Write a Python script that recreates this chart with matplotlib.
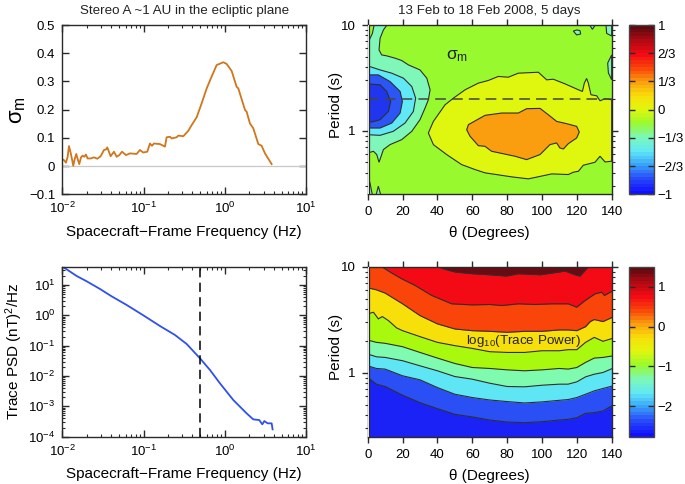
import numpy as np
import matplotlib
matplotlib.use('Agg')
import matplotlib.pyplot as plt
from matplotlib.cm import ScalarMappable
from matplotlib.colors import LinearSegmentedColormap, Normalize
from matplotlib.ticker import LogLocator, NullFormatter

plt.rcParams['font.family'] = ['Liberation Sans', 'DejaVu Sans']
plt.rcParams['mathtext.default'] = 'regular'
plt.rcParams['mathtext.fontset'] = 'custom'
plt.rcParams['mathtext.rm'] = 'Liberation Sans'
plt.rcParams['axes.unicode_minus'] = True

# sigma_m spectrum
sig_logf = [-2.000, -1.979, -1.955, -1.934, -1.918, -1.897, -1.877, -1.865, -1.848, -1.828, -1.807,
            -1.791, -1.770, -1.750, -1.729, -1.709, -1.688, -1.651, -1.610, -1.569, -1.528, -1.487,
            -1.462, -1.446, -1.405, -1.364, -1.331, -1.298, -1.265, -1.216, -1.167, -1.085, -1.044,
            -1.003, -0.954, -0.921, -0.896, -0.872, -0.798, -0.736, -0.716, -0.675, -0.654, -0.593,
            -0.572, -0.510, -0.449, -0.408, -0.346, -0.285, -0.223, -0.162, -0.100, -0.018, 0.023,
            0.085, 0.146, 0.167, 0.249, 0.269, 0.310, 0.351, 0.413, 0.454, 0.495, 0.577]
sig_val = [.024, .021, .012, .033, .071, .047, .019, .001, .024, .043, .021, .007, .031, .037, .033,
           .041, .027, .027, .031, .026, .035, .057, .059, .066, .035, .051, .033, .039, .051, .039,
           .045, .043, .057, .048, .051, .080, .072, .080, .078, .069, .102, .104, .098, .102, .108,
           .106, .125, .145, .173, .222, .275, .317, .358, .368, .362, .337, .281, .275, .199, .193,
           .151, .134, .078, .072, .045, .007]

# trace PSD spectrum
psd_logf = [-2.0, -1.947, -1.824, -1.700, -1.536, -1.393, -1.208, -1.003, -0.798, -0.613, -0.469,
            -0.305, -0.182, -0.059, 0.105, 0.269, 0.351, 0.425, 0.462, 0.487, 0.528, 0.577, 0.589]
psd_log = [1.604, 1.516, 1.297, 1.121, 0.868, 0.626, 0.341, 0.0, -0.352, -0.648, -0.945, -1.418,
           -1.802, -2.242, -2.791, -3.231, -3.429, -3.451, -3.593, -3.484, -3.560, -3.560, -3.758]

# sigma_m contours, (theta, log10 period)
aqua_main = [(11.5, 1.01), (9.0, .953), (7.1, .874), (6.5, .764), (8.0, .717), (10.9, .708), (15.7, .686),
             (19.5, .664), (23.3, .623), (30.0, .575), (33.9, .497), (35.8, .387), (34.8, .292),
             (32.9, .214), (30.0, .104), (25.3, -.006), (19.5, -.085), (12.8, -.132), (9.0, -.179),
             (7.7, -.242), (6.5, -.299), (5.2, -.226), (3.3, -.195), (0, -.211), (0, .827),
             (2.7, .921), (3.8, 1.01)]
cyan_main = [(0, .613), (7.1, .575), (13.8, .544), (20.5, .497), (25.3, .418), (27.5, .308), (26.2, .182),
             (21.4, .072), (14.7, -.006), (7.1, -.044), (0, -.038)]
blue_main = [(0, .528), (6.1, .528), (12.8, .465), (18.6, .371), (19.9, .277), (18.6, .167), (13.8, .072),
             (7.1, .025), (0, .025)]
deep_main = [(0, .443), (7.1, .434), (10.9, .371), (13.2, .277), (11.9, .182), (7.1, .104), (2.3, .082),
             (0, .088)]
aqua_small = [
    [(0, -.431), (1.3, -.494), (2.7, -.61), (0, -.61)],
    [(4.8, -.61), (6.1, -.525), (7.5, -.61)],
    [(140, .717), (137.7, .640), (138.1, .547), (140, .481)],
    [(136.7, 1.01), (137.1, .921), (140, .896), (140, 1.01)],
    [(127, 1.01), (128.9, .959), (131, 1.01)],
    [(118, .943), (119.9, .906), (122.2, .915), (121.8, .947), (119.9, .953)],
]
yellow_main = [(34.8, -.022), (37.7, .088), (44.4, .245), (49.2, .308), (55.9, .387), (63.5, .450), (69.2, .475),
               (74.9, .513), (80.7, .506), (86.4, .544), (97.9, .553), (102.7, .481), (106.5, .487),
               (113.2, .443), (120.9, .387), (123.2, .371), (124.3, .450), (125.6, .494), (126.6, .450),
               (128.1, .340), (131.4, .330), (133.3, .283), (136.2, .302), (140, .292), (140, -.289),
               (136.2, -.296), (133.3, -.242), (130.4, -.299), (123.7, -.327), (120.9, -.384), (118, -.393),
               (115.1, -.415), (105.6, -.409), (92.2, -.456), (82.6, -.437), (67.3, -.399), (61.6, -.368),
               (53.9, -.321), (45.3, -.226), (37.7, -.132)]
orange_main = [(56.8, .009), (57.8, .057), (63.5, .110), (67.3, .145), (76.9, .167), (86.4, .167), (91.2, .208),
               (98.9, .211), (103.6, .151), (108.4, .088), (114.2, .066), (119.9, .041), (121.4, -.013),
               (119.9, -.069), (115.1, -.123), (112.3, -.173), (110.3, -.164), (108.4, -.116), (104.6, -.132),
               (98.9, -.226), (91.2, -.274), (84.5, -.242), (71.1, -.195), (67.3, -.148), (63.5, -.142),
               (58.7, -.053)]

# trace power level curves, (theta, log10 period), lowest first
grid_theta = [0, 5, 10, 20, 30, 40, 50, 60, 70, 80, 90, 100, 110, 115, 120, 125, 130, 135, 140]
level_1 = [-.044, -.107, -.129, -.211, -.281, -.338, -.391, -.416, -.445, -.464, -.470, -.461, -.445,
           -.438, -.423, -.382, -.375, -.360, -.312]
level_2 = [.066, .041, .035, -.028, -.066, -.139, -.202, -.233, -.256, -.271, -.284, -.274, -.259, -.252,
           -.233, -.202, -.170, -.148, -.126]
level_3 = [.177, .151, .145, .114, .066, .019, -.035, -.060, -.098, -.129, -.132, -.117, -.107, -.107,
           -.085, -.038, -.013, .003, .038]
level_4 = [.309, .287, .278, .246, .192, .139, .088, .050, .041, .028, .019, .028, .041, .035, .050, .098,
           .139, .145, .158]
level_5_t = [0, 3.3, 6.1, 8.4, 11.9, 16.6, 20, 30, 40, 50, 60, 70, 80, 90, 100, 110, 115, 120, 125, 130, 135, 140]
level_5 = [.555, .571, .508, .530, .492, .423, .397, .341, .287, .256, .230, .199, .192, .192, .208, .208,
           .218, .218, .287, .334, .297, .322]
level_6_t = [0, 5, 10, 20, 30, 40, 50, 60, 70, 80, 90, 100, 110, 115, 120, 125, 127.7, 130, 135, 140]
level_6 = [.801, .782, .751, .650, .539, .461, .413, .397, .391, .382, .391, .391, .404, .404, .397, .435,
           .483, .502, .483, .520]
level_7_t = [7.1, 12.8, 19.5, 27.2, 36.7, 48.2, 60, 70, 76.9, 86.4, 96, 105.6, 115.1, 119.9, 124.7, 130.4,
             134.3, 135.8, 140]
level_7 = [1.01, .950, .886, .823, .729, .650, .640, .644, .634, .650, .644, .650, .650, .618, .681, .744,
           .760, .729, .767]
level_8_t = [38.6, 44.4, 50.1, 60, 70, 79.7, 86.4, 98.9, 105.6, 113.2, 119.9, 121.8, 124.7, 127]
level_8 = [1.01, .975, .950, .934, .924, .912, .934, .924, .940, .959, .918, .912, .965, 1.01]

theta_ticks = [0, 20, 40, 60, 80, 100, 120, 140]
sigma_cbar_ticks = [-1, -2/3, -1/3, 0, 1/3, 2/3, 1]
sigma_cbar_labels = ['\u22121', '\u22122/3', '\u22121/3', '0', '1/3', '2/3', '1']
power_cbar_ticks = [-2, -1, 0, 1]
power_cbar_labels = ['\u22122', '\u22121', '0', '1']

jet_like = LinearSegmentedColormap.from_list('jetlike', [
    '#1010FF', '#2848F8', '#38A0F8', '#60E8F5', '#7CF8B8', '#98F92F', '#DFF70E', '#F8E00A',
    '#FA9D0F', '#F9440A', '#F30A14', '#B00A12', '#5A0A10'], N=48)

W, H = 685, 484
DARK = '#2a2a2a'
LINE = '#2e2e2e'


def make_axes(x0, x1, y0, y1):
    return fig.add_axes([x0 / W, 1 - y1 / H, (x1 - x0) / W, (y1 - y0) / H])


def style_spines(ax):
    for s in ax.spines.values():
        s.set_linewidth(1.0)
        s.set_color(DARK)


def setup_freq_axis(ax):
    ax.set_xscale('log')
    ax.set_xlim(0.01, 10)
    ax.xaxis.set_minor_locator(LogLocator(base=10, subs=range(2, 10), numticks=20))
    ax.xaxis.set_minor_formatter(NullFormatter())
    ax.tick_params(which='major', direction='in', top=True, right=True, length=5, width=1, color=DARK,
                   labelsize=9.5, pad=5)
    ax.tick_params(which='minor', direction='in', top=True, right=True, length=2.5, width=.8, color=DARK)
    ax.set_xlabel('Spacecraft\u2212Frame Frequency (Hz)', fontsize=11, labelpad=6)
    style_spines(ax)


def setup_theta_axis(ax):
    ax.set_xlim(0, 140)
    ax.set_yscale('log')
    ax.set_ylim(0.25, 10)
    ax.set_xticks(theta_ticks)
    ax.set_yticks([1, 10], ['1', '10'])
    ax.yaxis.set_minor_locator(LogLocator(base=10, subs=range(2, 10), numticks=10))
    ax.yaxis.set_minor_formatter(NullFormatter())
    ax.tick_params(which='major', direction='out', top=True, right=True, length=4.5, width=1, color=DARK,
                   labelsize=9.5, pad=4)
    ax.tick_params(which='minor', direction='out', left=True, right=True, length=2.5, width=.8, color=DARK)
    ax.set_xlabel('\u03b8 (Degrees)', fontsize=11, labelpad=6)
    ax.set_ylabel('Period (s)', fontsize=11)
    ax.yaxis.set_label_coords(-0.10, 0.53)
    # thin empty strip at theta = 0
    ax.axvspan(0, 1, color='white', zorder=5, lw=0)
    ax.axvline(1, color=DARK, lw=.9, zorder=6)
    style_spines(ax)


def contour_poly(ax, pts, color):
    ax.fill([p[0] for p in pts], [10 ** p[1] for p in pts], facecolor=color, edgecolor=LINE, lw=.8)


def level_band(ax, t, lev, color):
    per = 10 ** np.array(lev)
    ax.fill_between(t, per, 12, color=color, lw=0)
    ax.plot(t, per, color=LINE, lw=.8)


def setup_cbar(cax, lo, hi, ticks, labels):
    cb = fig.colorbar(ScalarMappable(Normalize(lo, hi), jet_like), cax=cax, ticks=ticks)
    cb.ax.set_yticklabels(labels)
    cax.tick_params(direction='in', left=True, right=True, length=4, width=1, color=DARK, labelsize=9.5, pad=2.5)
    cb.outline.set_linewidth(1.0)
    cb.outline.set_edgecolor('#444444')
    cb.minorticks_off()
    return cb


fig = plt.figure(figsize=(W / 100, H / 100), dpi=100)

# top left
ax1 = make_axes(62.3, 306, 25, 194.3)
ax1.axhline(0, color='#c8c8c8', lw=.9)
ax1.plot(10 ** np.array(sig_logf), sig_val, color='#D0761C', lw=1.3)
setup_freq_axis(ax1)
ax1.set_ylim(-0.1, 0.5)
ax1.set_yticks(np.arange(-0.1, 0.51, 0.1))
ax1.set_yticklabels(['\u22120.1', '0', '0.1', '0.2', '0.3', '0.4', '0.5'])
ax1.set_ylabel('\u03c3$_{m}$', fontsize=16)
ax1.yaxis.set_label_coords(-0.142, 0.5)
ax1.set_title('Stereo A ~1 AU in the ecliptic plane', fontsize=9.6, pad=8, color='#222222')

# bottom left
ax2 = make_axes(62.3, 306, 266.7, 436.7)
ax2.plot(10 ** np.array(psd_logf), 10 ** np.array(psd_log), color='#2F50F0', lw=1.3)
ax2.axvline(0.495, color='black', lw=1.1, dashes=(6, 3.5))
setup_freq_axis(ax2)
ax2.set_yscale('log')
ax2.set_ylim(1e-4, 40)
ax2.set_yticks([1e-4, 1e-3, 1e-2, 1e-1, 1, 10])
ax2.yaxis.set_minor_locator(LogLocator(base=10, subs=range(2, 10), numticks=20))
ax2.yaxis.set_minor_formatter(NullFormatter())
ax2.tick_params(axis='y', which='major', labelsize=9.5)
ax2.set_ylabel('Trace PSD (nT)$^{2}$/Hz', fontsize=11)
ax2.yaxis.set_label_coords(-0.152, 0.5)

# top right
ax3 = make_axes(367.7, 611.7, 25, 194.3)
ax3.set_facecolor('#98F92F')
contour_poly(ax3, aqua_main, '#7FF7B8')
contour_poly(ax3, cyan_main, '#60E8F5')
contour_poly(ax3, blue_main, '#2C55F5')
contour_poly(ax3, deep_main, '#2036EE')
for poly in aqua_small:
    contour_poly(ax3, poly, '#7FF7B8')
contour_poly(ax3, yellow_main, '#DFF70E')
contour_poly(ax3, orange_main, '#FA9D0F')
ax3.axhline(2, color='#444444', lw=1.1, dashes=(7, 4), zorder=4)
setup_theta_axis(ax3)
ax3.text(45, 5.05, '\u03c3$_{m}$', fontsize=12.5, ha='left', va='center', color='#222222')
ax3.set_title('13 Feb to 18 Feb 2008, 5 days', fontsize=9.6, pad=8, color='#222222')

# bottom right
ax4 = make_axes(367.7, 611.7, 266.7, 436.7)
ax4.set_facecolor('#1A22F5')
level_band(ax4, grid_theta, level_1, '#2A50F5')
level_band(ax4, grid_theta, level_2, '#5FE6F5')
level_band(ax4, grid_theta, level_3, '#7EFBAE')
level_band(ax4, grid_theta, level_4, '#A8F90E')
level_band(ax4, level_5_t, level_5, '#F7E00A')
level_band(ax4, level_6_t, level_6, '#F9440A')
level_band(ax4, level_7_t, level_7, '#F30A14')
level_band(ax4, level_8_t, level_8, '#6A0A12')
setup_theta_axis(ax4)
ax4.text(56.5, 2.0, 'log$_{10}$(Trace Power)', fontsize=9.6, ha='left', va='center', color='#222222')

# colorbars
cax1 = make_axes(629, 654, 25, 194.3)
setup_cbar(cax1, -1, 1, sigma_cbar_ticks, sigma_cbar_labels)
cax2 = make_axes(629, 654, 266.7, 436.7)
setup_cbar(cax2, -2.77, 1.51, power_cbar_ticks, power_cbar_labels)

fig.savefig('out.png', dpi=100)
